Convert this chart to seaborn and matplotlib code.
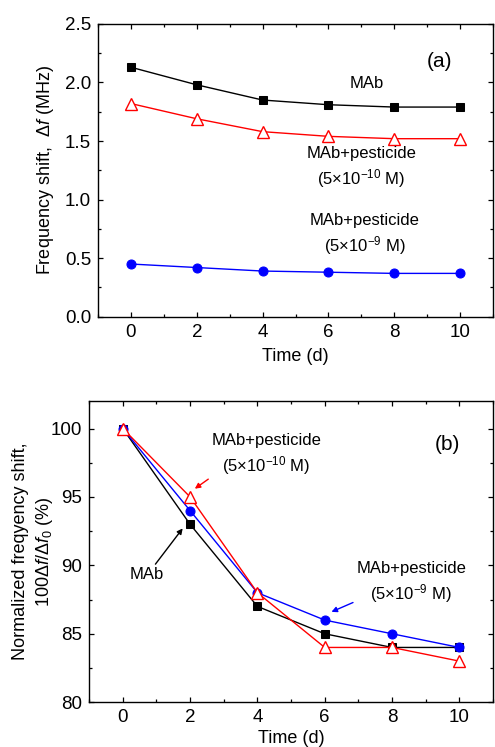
import matplotlib
matplotlib.use("Agg")
import matplotlib.pyplot as plt
from matplotlib.ticker import MultipleLocator
import seaborn as sns
import pandas as pd

days = [0, 2, 4, 6, 8, 10]
a_mab = [2.13, 1.98, 1.85, 1.81, 1.79, 1.79]
a_low = [1.82, 1.69, 1.58, 1.54, 1.52, 1.52]
a_high = [0.45, 0.42, 0.39, 0.38, 0.37, 0.37]
b_mab = [100, 93, 87, 85, 84, 84]
b_high = [100, 94, 88, 86, 85, 84]
b_low = [100, 95, 88, 84, 84, 83]

sns.set_theme(style="ticks")
plt.rcParams["font.family"] = ["Liberation Sans", "DejaVu Sans"]
plt.rcParams["mathtext.fontset"] = "custom"
plt.rcParams["mathtext.rm"] = "Liberation Sans"
plt.rcParams["mathtext.it"] = "Liberation Sans:italic"
plt.rcParams["mathtext.default"] = "rm"
plt.rcParams["text.color"] = "black"
plt.rcParams["axes.labelcolor"] = "black"

TFS = 13.5   # tick labels
LFS = 13     # axis labels
AFS = 12     # annotations
PFS = 15     # panel labels
fig = plt.figure(figsize=(4.95, 7.47), dpi=100)
ax1 = fig.add_axes([0.198, 0.576, 0.798, 0.392])
ax2 = fig.add_axes([0.180, 0.060, 0.816, 0.403])

def style(ax):
    ax.tick_params(which="both", direction="in", top=True, right=True,
                   labelsize=TFS, colors="black")
    ax.tick_params(which="major", length=3.8, width=0.9, pad=5)
    ax.tick_params(which="minor", length=2.2, width=0.9)
    for s in ax.spines.values():
        s.set_linewidth(1.0)
        s.set_color("black")
    ax.xaxis.set_major_locator(MultipleLocator(2))
    ax.xaxis.set_minor_locator(MultipleLocator(1))
    ax.set_xlim(-1, 11)

def series(ax, x, y, kind):
    df = pd.DataFrame({"t": x, "v": y})
    if kind == "mab":
        sns.lineplot(data=df, x="t", y="v", ax=ax, color="black", marker="s",
                     markersize=6.0, markeredgecolor="black", markerfacecolor="black",
                     linewidth=1.0)
    elif kind == "low":
        sns.lineplot(data=df, x="t", y="v", ax=ax, color="red", marker="^",
                     markersize=8.0, markeredgecolor="red", markerfacecolor="white",
                     markeredgewidth=1.0, linewidth=1.0)
    else:
        sns.lineplot(data=df, x="t", y="v", ax=ax, color="blue", marker="o",
                     markersize=6.5, markeredgecolor="blue", markerfacecolor="blue",
                     linewidth=1.0)

# Panel (a)
series(ax1, days, a_mab, "mab")
series(ax1, days, a_low, "low")
series(ax1, days, a_high, "high")
style(ax1)
ax1.set_ylim(0, 2.5)
ax1.yaxis.set_major_locator(MultipleLocator(0.5))
ax1.yaxis.set_minor_locator(MultipleLocator(0.25))
ax1.set_xlabel("Time (d)", fontsize=LFS, labelpad=5)
ax1.set_ylabel(r"Frequency shift,  $\Delta\mathit{f}$ (MHz)", fontsize=LFS, labelpad=6)
ax1.text(7.15, 1.99, "MAb", fontsize=AFS, ha="center", va="center")
ax1.text(7.0, 1.27, "MAb+pesticide\n(5$\\times$10$^{-10}$ M)", fontsize=AFS,
         ha="center", va="center", linespacing=1.35)
ax1.text(7.1, 0.70, "MAb+pesticide\n(5$\\times$10$^{-9}$ M)", fontsize=AFS,
         ha="center", va="center", linespacing=1.35)
ax1.text(9.36, 2.18, "(a)", fontsize=PFS, ha="center", va="center")

# Panel (b)
series(ax2, days, b_mab, "mab")
series(ax2, days, b_high, "high")
series(ax2, days, b_low, "low")
style(ax2)
ax2.set_ylim(80, 102)
ax2.yaxis.set_major_locator(MultipleLocator(5))
ax2.yaxis.set_minor_locator(MultipleLocator(2.5))
ax2.set_xlabel("Time (d)", fontsize=LFS, labelpad=3)
ax2.set_ylabel("Normalized freqyency shift,\n" + r"100$\Delta\mathit{f}/\Delta\mathit{f}_{0}$ (%)",
               fontsize=LFS, labelpad=-3, linespacing=1.3)
ax2.text(9.64, 98.8, "(b)", fontsize=PFS, ha="center", va="center")
ax2.annotate("MAb+pesticide\n(5$\\times$10$^{-10}$ M)", xy=(2.14, 95.6), xytext=(4.27, 98.05),
             fontsize=AFS, ha="center", va="center", linespacing=1.35,
             textcoords="data",
             arrowprops=dict(arrowstyle="-|>", color="red", lw=1.0,
                             shrinkA=0, shrinkB=0, mutation_scale=8,
                             relpos=(0.08, 0.15)))
ax2.annotate("MAb", xy=(1.78, 92.7), xytext=(0.71, 89.3),
             fontsize=AFS, ha="center", va="center",
             arrowprops=dict(arrowstyle="-|>", color="black", lw=1.0,
                             shrinkA=0, shrinkB=0, mutation_scale=8,
                             relpos=(0.75, 1.2)))
ax2.annotate("MAb+pesticide\n(5$\\times$10$^{-9}$ M)", xy=(6.2, 86.6), xytext=(8.57, 88.7),
             fontsize=AFS, ha="center", va="center", linespacing=1.35,
             arrowprops=dict(arrowstyle="-|>", color="blue", lw=1.0,
                             shrinkA=0, shrinkB=0, mutation_scale=8,
                             relpos=(0.1, 0.2)))

fig.savefig("out.png", dpi=100)
